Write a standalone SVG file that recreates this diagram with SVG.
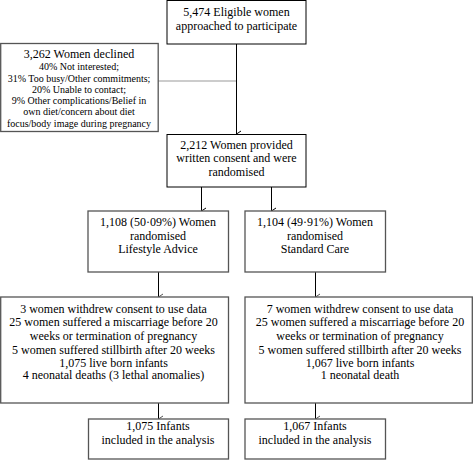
<svg xmlns="http://www.w3.org/2000/svg" width="473" height="460" viewBox="0 0 473 460">
<style>
text{font-family:"Liberation Serif","Times New Roman",serif;fill:#000;text-anchor:middle}
.t{font-size:12px}
.s{font-size:10px}
.b1{fill:#fff;stroke:#000;stroke-width:1}
.b2{fill:#fff;stroke:#555;stroke-width:1.3}
.c{fill:none;stroke:#000;stroke-width:1}
.g{fill:none;stroke:#999;stroke-width:1}
</style>
<defs>
<marker id="ah" markerWidth="8" markerHeight="8" refX="4" refY="6" orient="auto" markerUnits="userSpaceOnUse" viewBox="0 0 8 8">
<path d="M1,1.5 L4,6 L7,1.5" fill="none" stroke="#000" stroke-width="1"/>
</marker>
<marker id="ahg" markerWidth="8" markerHeight="8" refX="4" refY="6" orient="auto" markerUnits="userSpaceOnUse" viewBox="0 0 8 8">
<path d="M1,1.5 L4,6 L7,1.5" fill="none" stroke="#555" stroke-width="1"/>
</marker>
</defs>
<g id="connectors">
<path class="g" d="M158,81 H236"/>
<path class="c" d="M236.5,44 V134" marker-end="url(#ah)"/>
<path class="c" d="M201.5,187 V211" marker-end="url(#ah)"/>
<path class="c" d="M271.5,187 V211" marker-end="url(#ah)"/>
<path class="c" d="M158.5,272 V297" stroke="#555" marker-end="url(#ahg)"/>
<path class="c" d="M315.5,272 V297" stroke="#555" marker-end="url(#ahg)"/>
<path class="c" d="M158.5,403 V419" stroke="#555" marker-end="url(#ahg)"/>
<path class="c" d="M315.5,403 V419" stroke="#555" marker-end="url(#ahg)"/>
</g>
<g id="eligible">
<rect class="b1" x="167" y="0.5" width="139" height="43.5"/>
<text class="t" x="236.5" y="15.5">5,474 Eligible women</text>
<text class="t" x="236.5" y="30">approached to participate</text>
</g>
<g id="declined">
<rect class="b2" x="0.7" y="43.5" width="157.5" height="88"/>
<text class="t" x="79" y="58">3,262 Women declined</text>
<text class="s" x="79" y="69.5">40% Not interested;</text>
<text class="s" x="79" y="82">31% Too busy/Other commitments;</text>
<text class="s" x="79" y="93">20% Unable to contact;</text>
<text class="s" x="79" y="104">9% Other complications/Belief in</text>
<text class="s" x="79" y="115">own diet/concern about diet</text>
<text class="s" x="79" y="126.5">focus/body image during pregnancy</text>
</g>
<g id="randomised">
<rect class="b1" x="167" y="134.5" width="139" height="52.5"/>
<text class="t" x="236.5" y="149">2,212 Women provided</text>
<text class="t" x="236.5" y="161.5">written consent and were</text>
<text class="t" x="236.5" y="176">randomised</text>
</g>
<g id="lifestyle">
<rect class="b2" x="88" y="211" width="140.5" height="61"/>
<text class="t" x="158" y="226">1,108 (50·09%) Women</text>
<text class="t" x="158" y="239.5">randomised</text>
<text class="t" x="158" y="253">Lifestyle Advice</text>
</g>
<g id="standard">
<rect class="b2" x="245" y="211" width="140.5" height="61"/>
<text class="t" x="315" y="226">1,104 (49·91%) Women</text>
<text class="t" x="315" y="239.5">randomised</text>
<text class="t" x="315" y="253">Standard Care</text>
</g>
<g id="outcomes-lifestyle">
<rect class="b2" x="0.7" y="297" width="227.8" height="106"/>
<text class="t" x="113.5" y="312.5">3 women withdrew consent to use data</text>
<text class="t" x="113.5" y="326">25 women suffered a miscarriage before 20</text>
<text class="t" x="113.5" y="340">weeks or termination of pregnancy</text>
<text class="t" x="113.5" y="354">5 women suffered stillbirth after 20 weeks</text>
<text class="t" x="113.5" y="366.5">1,075 live born infants</text>
<text class="t" x="113.5" y="379">4 neonatal deaths (3 lethal anomalies)</text>
</g>
<g id="outcomes-standard">
<rect class="b2" x="245" y="297" width="227.3" height="106"/>
<text class="t" x="360" y="312.5">7 women withdrew consent to use data</text>
<text class="t" x="360" y="326">25 women suffered a miscarriage before 20</text>
<text class="t" x="360" y="340">weeks or termination of pregnancy</text>
<text class="t" x="360" y="354">5 women suffered stillbirth after 20 weeks</text>
<text class="t" x="360" y="366.5">1,067 live born infants</text>
<text class="t" x="360" y="379">1 neonatal death</text>
</g>
<g id="analysis-lifestyle">
<rect class="b2" x="88.5" y="419" width="140" height="40"/>
<text class="t" x="158" y="430">1,075 Infants</text>
<text class="t" x="158" y="443.5">included in the analysis</text>
</g>
<g id="analysis-standard">
<rect class="b2" x="245" y="419" width="140.5" height="40"/>
<text class="t" x="315" y="430">1,067 Infants</text>
<text class="t" x="315" y="443.5">included in the analysis</text>
</g>
</svg>
